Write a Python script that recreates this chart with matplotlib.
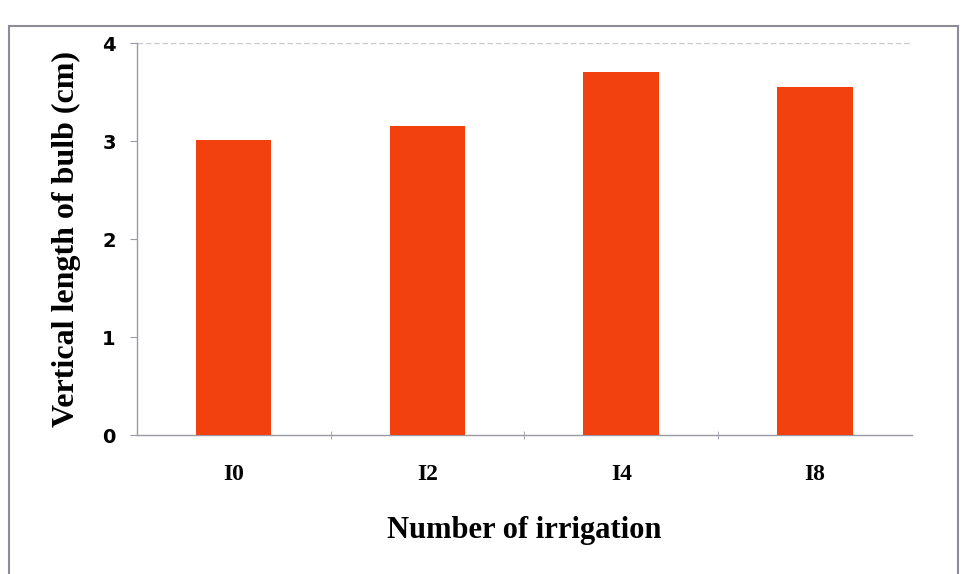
import matplotlib.pyplot as plt
from matplotlib.patches import Rectangle

# bulb length by irrigation count
treatments = ["I0", "I2", "I4", "I8"]
bulb_length = [3.01, 3.15, 3.70, 3.55]
y_ticks = [0, 1, 2, 3, 4]

bar_color = "#f2400e"
axis_gray = "#9a9aa6"

fig = plt.figure(figsize=(9.63, 5.74), dpi=100)
ax = fig.add_axes([0.142, 0.242, 0.805, 0.683])

x = range(len(treatments))
ax.bar(x, bulb_length, width=0.39, color=bar_color, zorder=3)

ax.set_xlim(-0.5, len(treatments) - 0.5)
ax.set_ylim(0, 4)
ax.set_yticks(y_ticks)
ax.set_yticklabels([str(t) for t in y_ticks], fontsize=14, fontweight="bold",
                   family="DejaVu Sans")
ax.tick_params(axis="y", length=5, color=axis_gray, pad=10)

# category labels at bar centres, tick marks between categories
ax.set_xticks(list(x))
ax.set_xticklabels(treatments, fontsize=17, fontweight="bold", family="Liberation Serif")
ax.tick_params(axis="x", length=0, pad=21)
ax.set_xticks([i + 0.5 for i in range(len(treatments) - 1)], minor=True)
ax.tick_params(axis="x", which="minor", length=6, direction="inout", color=axis_gray)

ax.axhline(4, color="#c9c9d0", lw=1, ls=(0, (4, 2)), zorder=1)

for side in ["top", "right"]:
    ax.spines[side].set_visible(False)
for side in ["left", "bottom"]:
    ax.spines[side].set_color(axis_gray)
    ax.spines[side].set_linewidth(1)

ax.set_ylabel("Vertical length of bulb (cm)", fontsize=23, fontweight="bold",
              family="Liberation Serif", labelpad=15)
ax.set_xlabel("Number of irrigation", fontsize=22, fontweight="bold",
              family="Liberation Serif", labelpad=22)

# frame around the whole chart
fig.patches.append(Rectangle((0.009, -0.02), 0.986, 0.975, transform=fig.transFigure,
                             fill=False, edgecolor="#8c8c96", lw=1.5))

fig.savefig("out.png", dpi=100)
